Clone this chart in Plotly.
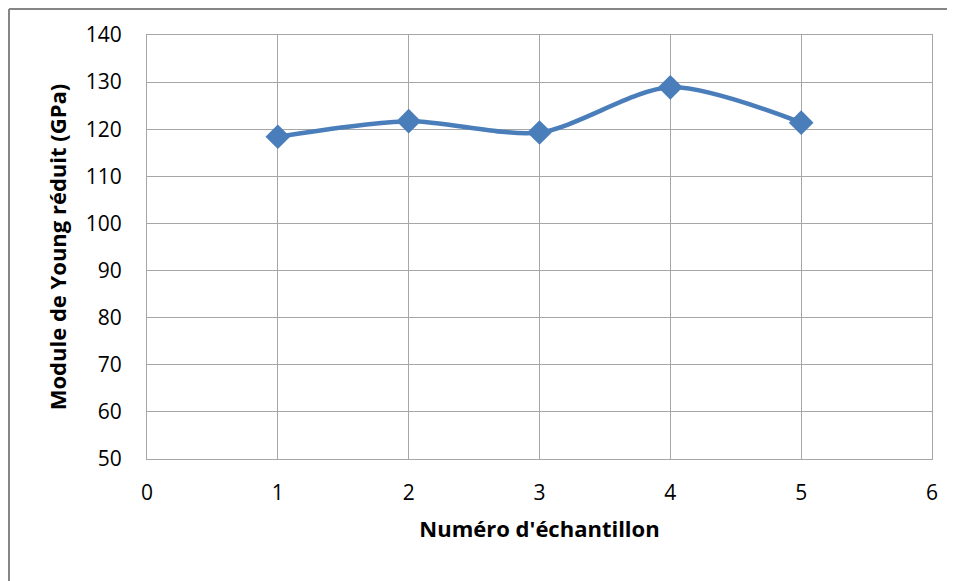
import plotly.graph_objects as go

samples = [1, 2, 3, 4, 5]
modulus = [118.4, 121.7, 119.3, 128.9, 121.4]

# page body has an 8px margin; compensate so the plot lands where the reference has it
OFF = 8
W, H = 955 - OFF, 581 - OFF
L, R, T, B = 147 - OFF, W - (932 - OFF), 34 - OFF + 1, H - (459 - OFF)
PW, PH = W - L - R, H - T - B

fig = go.Figure()
fig.add_trace(go.Scatter(
    x=samples, y=modulus, mode="lines+markers",
    line=dict(color="#4a7ebb", width=4.5, shape="spline", smoothing=0.8),
    marker=dict(symbol="diamond", size=19, color="#4a7ebb"),
    showlegend=False,
))

font_family = "Open Sans, Arial"
bx0 = (1 - L) / PW
bx1 = 1 + R / PW
by1 = 1 + (T - 1) / PH
by0 = -B / PH
border = dict(color="#868686", width=2)
fig.update_layout(
    width=W, height=H,
    margin=dict(l=L, r=R, t=T, b=B),
    paper_bgcolor="white", plot_bgcolor="white",
    font=dict(family=font_family, color="#000000"),
    xaxis=dict(range=[0, 6], dtick=1, showgrid=True, gridcolor="#a6a6a6", gridwidth=1,
               showline=True, linecolor="#a6a6a6", linewidth=1, mirror=True,
               zeroline=False, ticks="", ticklabelstandoff=15,
               tickfont=dict(size=21, family=font_family),
               title=dict(text="<b>Numéro d'échantillon</b>", font=dict(size=22, family=font_family), standoff=16)),
    yaxis=dict(range=[50, 140], dtick=10, showgrid=True, gridcolor="#a6a6a6", gridwidth=1,
               showline=True, linecolor="#a6a6a6", linewidth=1, mirror=True,
               zeroline=False, ticks="", ticklabelstandoff=20,
               tickfont=dict(size=21, family=font_family),
               title=dict(text="<b>Module de Young réduit (GPa)</b>", font=dict(size=22, family=font_family), standoff=13)),
    shapes=[
        dict(type="line", xref="paper", yref="paper", x0=bx0, x1=bx1, y0=by1, y1=by1, line=border, layer="below"),
        dict(type="line", xref="paper", yref="paper", x0=bx0, x1=bx0, y0=by0, y1=by1, line=border, layer="below"),
    ],
)
fig.write_html("out.html", config={"displayModeBar": False})
